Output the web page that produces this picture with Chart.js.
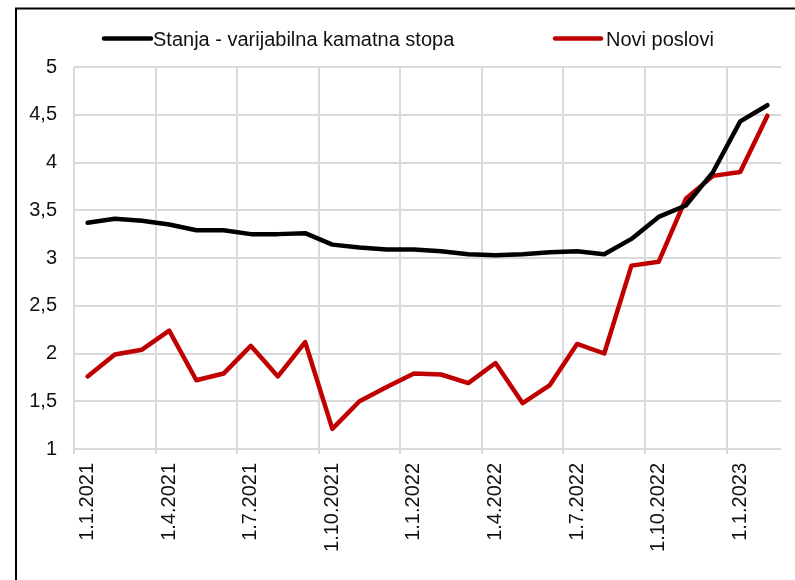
<!DOCTYPE html>
<html>
<head>
<meta charset="utf-8">
<script src="https://cdn.jsdelivr.net/npm/chart.js@4/dist/chart.umd.min.js"></script>
<style>
  html, body { margin: 0; padding: 0; background: #ffffff; }
  #wrap { width: 795px; height: 580px; position: relative; }
</style>
</head>
<body>
<div id="wrap"><canvas id="c" width="795" height="580"></canvas></div>
<script>
const categories = [
  '1.1.2021','1.2.2021','1.3.2021','1.4.2021','1.5.2021','1.6.2021',
  '1.7.2021','1.8.2021','1.9.2021','1.10.2021','1.11.2021','1.12.2021',
  '1.1.2022','1.2.2022','1.3.2022','1.4.2022','1.5.2022','1.6.2022',
  '1.7.2022','1.8.2022','1.9.2022','1.10.2022','1.11.2022','1.12.2022',
  '1.1.2023','1.2.2023'
];
const stanjaLabel = 'Stanja - varijabilna kamatna stopa';
const stanjaValues = [3.37, 3.41, 3.39, 3.35, 3.29, 3.29, 3.25, 3.25, 3.26, 3.14, 3.11, 3.09,
                      3.09, 3.07, 3.04, 3.03, 3.04, 3.06, 3.07, 3.04, 3.20, 3.43, 3.55, 3.90,
                      4.43, 4.60];
const noviLabel = 'Novi poslovi';
const noviValues = [1.76, 1.99, 2.04, 2.24, 1.72, 1.79, 2.08, 1.76, 2.12, 1.21, 1.50, 1.65,
                    1.79, 1.78, 1.69, 1.90, 1.48, 1.67, 2.10, 2.00, 2.92, 2.96, 3.62, 3.86,
                    3.90, 4.49];
const yMin = 1, yMax = 5, yStep = 0.5;

const FONT = "'Liberation Sans', Arial, sans-serif";
const TEXT = '#111111';
const GRID = '#d9d9d9';

const framePlugin = {
  id: 'frame',
  afterDraw(chart) {
    const ctx = chart.ctx;
    ctx.save();
    ctx.strokeStyle = '#000000';
    ctx.lineWidth = 2;
    ctx.strokeRect(16, 8.5, 900, 700);
    ctx.restore();
  }
};

const legendPlugin = {
  id: 'customLegend',
  afterDraw(chart) {
    const ctx = chart.ctx;
    const items = [
      { ds: chart.data.datasets[0], x0: 104, x1: 151, tx: 153 },
      { ds: chart.data.datasets[1], x0: 555, x1: 601, tx: 606 }
    ];
    ctx.save();
    items.forEach(it => {
      ctx.strokeStyle = it.ds.borderColor;
      ctx.lineWidth = 4.5;
      ctx.lineCap = 'round';
      ctx.beginPath();
      ctx.moveTo(it.x0, 38.5);
      ctx.lineTo(it.x1, 38.5);
      ctx.stroke();
      ctx.fillStyle = TEXT;
      ctx.font = '20px ' + FONT;
      ctx.textBaseline = 'alphabetic';
      ctx.textAlign = 'left';
      ctx.fillText(it.ds.label, it.tx, 46);
    });
    ctx.restore();
  }
};

new Chart(document.getElementById('c'), {
  type: 'line',
  data: {
    labels: categories,
    datasets: [
      { label: stanjaLabel, data: stanjaValues, borderColor: '#000000', backgroundColor: '#000000',
        borderWidth: 4.5, pointRadius: 0, tension: 0, borderJoinStyle: 'round', borderCapStyle: 'round' },
      { label: noviLabel, data: noviValues, borderColor: '#c00000', backgroundColor: '#c00000',
        borderWidth: 4.5, pointRadius: 0, tension: 0, borderJoinStyle: 'round', borderCapStyle: 'round' }
    ]
  },
  options: {
    responsive: false,
    animation: false,
    devicePixelRatio: 1,
    layout: { padding: { left: 0, top: 67, right: 14, bottom: 0 } },
    plugins: { legend: { display: false }, tooltip: { enabled: false } },
    scales: {
      x: {
        type: 'category',
        offset: true,
        border: { display: false },
        grid: {
          offset: true,
          drawOnChartArea: true,
          drawTicks: true,
          tickLength: 5,
          lineWidth: 2,
          color: c => (c.index !== undefined && c.index % 3 === 0) ? GRID : 'rgba(0,0,0,0)',
          tickColor: c => (c.index !== undefined && c.index % 3 === 0) ? GRID : 'rgba(0,0,0,0)'
        },
        ticks: {
          autoSkip: false,
          minRotation: 90,
          maxRotation: 90,
          padding: 9,
          color: TEXT,
          font: { family: FONT, size: 20 },
          callback: function(v, i) { return i % 3 === 0 ? this.getLabelForValue(v) : ''; }
        },
        afterFit: s => { s.height = 131; s.paddingLeft = 0; s.paddingRight = 0; }
      },
      y: {
        min: yMin, max: yMax,
        border: { display: false },
        grid: { color: GRID, lineWidth: 2, drawTicks: false },
        ticks: {
          stepSize: yStep,
          padding: 17,
          color: TEXT,
          font: { family: FONT, size: 20 },
          callback: v => String(v).replace('.', ',')
        },
        afterFit: s => { s.width = 74; s.paddingTop = 0; s.paddingBottom = 0; }
      }
    }
  },
  plugins: [framePlugin, legendPlugin]
});
</script>
</body>
</html>
